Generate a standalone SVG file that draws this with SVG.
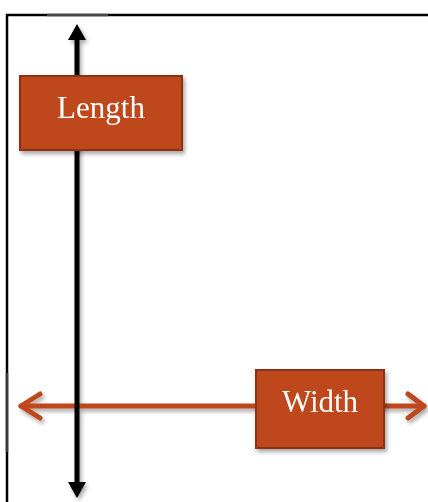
<svg xmlns="http://www.w3.org/2000/svg" width="428" height="502" viewBox="0 0 428 502">
  <style>
    .frame { stroke: #000; stroke-width: 2.5; fill: none; }
    .box { fill: #BE471C; stroke: #8A3212; stroke-width: 2; }
    .label { font-family: "Liberation Serif", "Times New Roman", serif; font-size: 31px; fill: #fff; text-anchor: middle; }
    .axis-v { stroke: #000; stroke-width: 5; fill: none; }
    .axis-h { stroke: #BE471C; stroke-width: 5; fill: none; stroke-linecap: round; stroke-linejoin: round; }
  </style>
  <defs>
    <filter id="shadow" x="-20%" y="-20%" width="140%" height="140%">
      <feGaussianBlur in="SourceAlpha" stdDeviation="2"/>
      <feOffset dx="2" dy="3" result="b"/>
      <feComponentTransfer><feFuncA type="linear" slope="0.35"/></feComponentTransfer>
      <feMerge><feMergeNode/><feMergeNode in="SourceGraphic"/></feMerge>
    </filter>
  </defs>

  <rect width="428" height="502" fill="#fff"/>

  <!-- outer frame: top and left edges -->
  <g id="frame">
    <path class="frame" d="M7 502 V15 H428"/>
    <path d="M47 15 H108" stroke="#4a4a4a" stroke-width="2.5"/>
    <path d="M7 373 V452" stroke="#3a3a3a" stroke-width="2.5"/>
  </g>

  <g id="connectors" filter="url(#shadow)">
    <!-- width axis -->
    <path class="axis-h" d="M21 406 H424"/>
    <path class="axis-h" d="M40 394 L21 406 L40 418"/>
    <path class="axis-h" d="M408 394 L424 406 L408 418"/>
    <!-- length axis -->
    <path class="axis-v" d="M77 38 V485"/>
    <polygon points="77,24 68,40 86,40" fill="#000"/>
    <polygon points="77,498 68,482 86,482" fill="#000"/>
  </g>

  <g id="length" filter="url(#shadow)">
    <rect class="box" x="20" y="76" width="162" height="74"/>
    <text class="label" x="101" y="118">Length</text>
  </g>

  <g id="width" filter="url(#shadow)">
    <rect class="box" x="256" y="370" width="128" height="78"/>
    <text class="label" x="320" y="412">Width</text>
  </g>
</svg>
